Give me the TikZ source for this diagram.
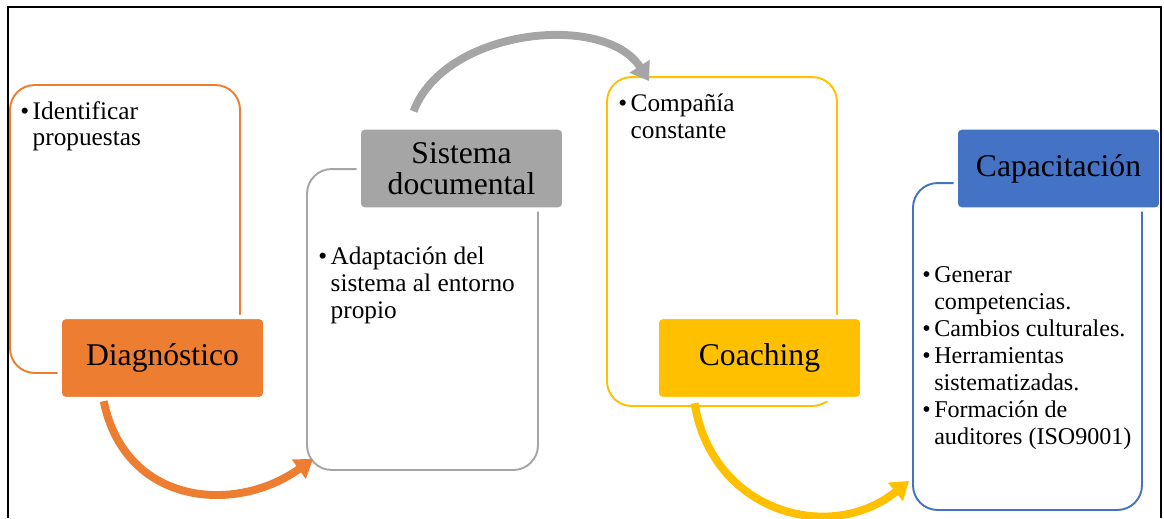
\documentclass[tikz,border=0pt]{standalone}
\usepackage{fontspec}
\setmainfont{Liberation Serif}
\usepackage{tikz}
\usetikzlibrary{arrows.meta,calc}

\definecolor{naranja}{HTML}{ED7D31}
\definecolor{gris}{HTML}{A5A5A5}
\definecolor{amarillo}{HTML}{FFC000}
\definecolor{azul}{HTML}{4472C4}

\newcommand{\bul}{\textbullet\hspace{2pt}}
\newcommand{\sangria}{\hphantom{\textbullet\hspace{2pt}}}

\begin{document}
\begin{tikzpicture}[x=0.02cm,y=-0.02cm,
                    outline box/.style={draw, rounded corners=14pt, line width=1.1pt},
                    title box/.style={rounded corners=3pt, draw=white, line width=2.5pt,
                      minimum width=4.11cm, minimum height=1.64cm, inner sep=0pt,
                      align=center, font=\fontsize{18}{17.5}\selectfont},
                    item text/.style={anchor=north west, inner sep=0pt, align=left,
                      font=\fontsize{14.4}{15.2}\selectfont},
                    flow/.style={line width=4.5pt, -{Triangle[width=13pt,length=10pt]}}]

  \useasboundingbox (0,0) rectangle (1164,518);

  %Boxes%
  \node[outline box, draw=naranja, minimum width=4.6cm, minimum height=5.76cm] (diagbox) at (125,229) {};
  \node[outline box, draw=gris, minimum width=4.62cm, minimum height=6.02cm] (sisbox) at (422.5,319.5) {};
  \node[outline box, draw=amarillo, minimum width=4.6cm, minimum height=6.58cm] (coachbox) at (722,241.5) {};
  \node[outline box, draw=azul, minimum width=4.58cm, minimum height=6.54cm] (capbox) at (1027.5,346.5) {};

  %Texts%
  \node[item text] (diagtext) at (20,101) {\bul Identificar\\ \sangria propuestas};
  \node[item text] (sistext) at (318,247) {\bul Adaptación del\\ \sangria sistema al entorno\\ \sangria propio};
  \node[item text] (coachtext) at (618,94) {\bul Compañía\\ \sangria constante};
  \node[item text, font=\fontsize{13.7}{15.4}\selectfont] (captext) at (922,266) {\bul Generar\\ \sangria competencias.\\
    \bul Cambios culturales.\\ \bul Herramientas\\ \sangria sistematizadas.\\
    \bul Formación de\\ \sangria auditores (ISO9001)};

  %Titles%
  \node[title box, fill=naranja] (diag) at (162.5,358) {Diagnóstico};
  \node[title box, fill=gris] (sisdoc) at (461.5,168.5) {Sistema\\documental};
  \node[title box, fill=amarillo] (coach) at (759.5,358) {Coaching};
  \node[title box, fill=azul] (capac) at (1058.5,168.5) {Capacitación};

  %Arrows%
  \coordinate (d1) at ($(diag.south west)!0.22!(diag.south east)$);
  \coordinate (d2) at ($(sisbox.south west)+(7,-12)$);
  \coordinate (s1) at ($(sisdoc.north west)+(57,-14)$);
  \coordinate (s2) at ($(coachbox.north west)+(43,5)$);
  \coordinate (c1) at ($(coach.south west)+(40,2)$);
  \coordinate (c2) at ($(capbox.south west)+(-3,-30)$);

  \draw[flow, naranja] (d1) .. controls (125,505) and (235,515) .. (d2);
  \draw[flow, gris] (s1) .. controls (445,28) and (605,12) .. (s2);
  \draw[flow, amarillo] (c1) .. controls (712,512) and (830,545) .. (c2);

  %Frame%
  \draw[line width=0.8pt] (8,518) -- (8,7) -- (1161,7) -- (1161,518);
\end{tikzpicture}
\end{document}
